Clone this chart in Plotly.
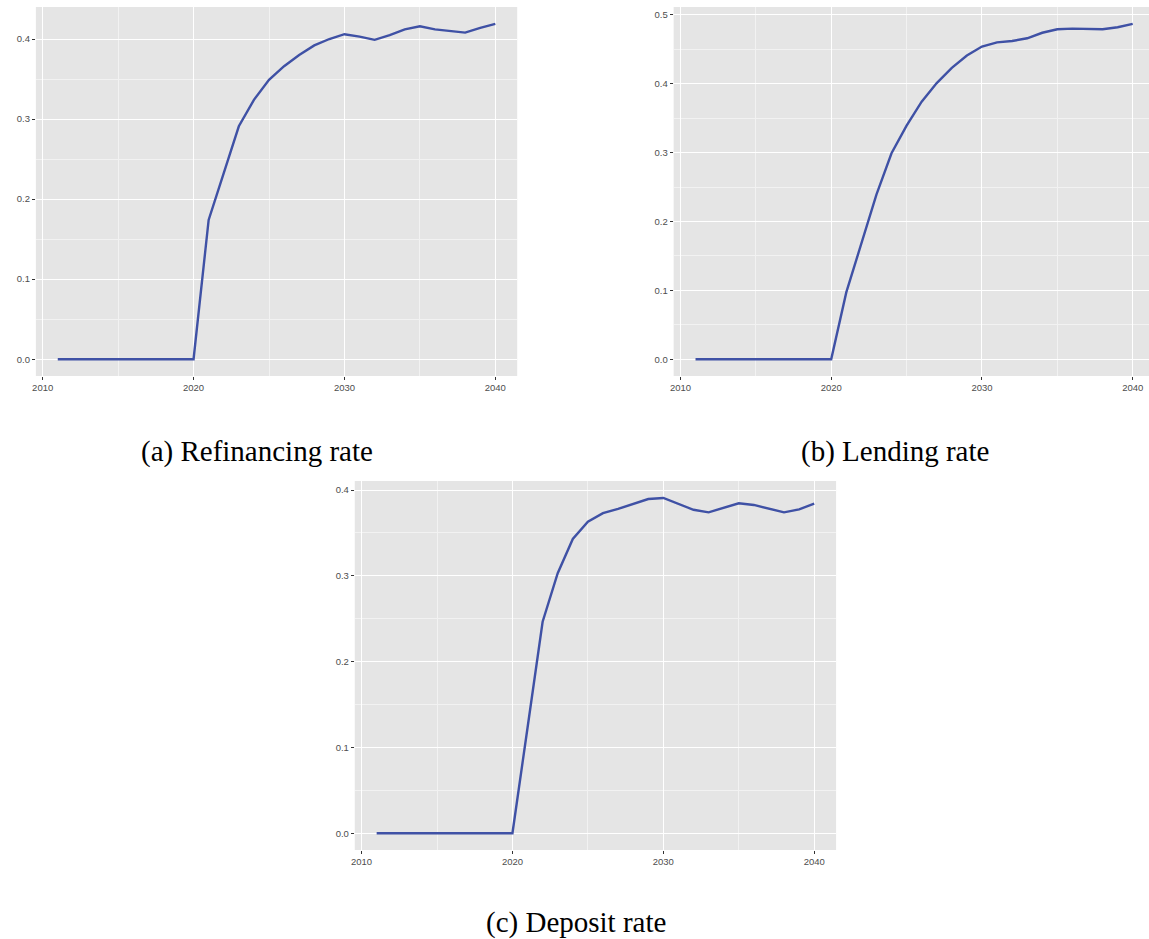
import plotly.graph_objects as go

years = list(range(2011, 2041))
refinancing = [0.0] * 10 + [0.174, 0.232, 0.291, 0.324, 0.349, 0.366, 0.380, 0.392, 0.400, 0.406,
                            0.403, 0.399, 0.405, 0.412, 0.416, 0.412, 0.410, 0.408, 0.414, 0.419]
lending = [0.0] * 10 + [0.097, 0.168, 0.239, 0.299, 0.339, 0.374, 0.401, 0.423, 0.441, 0.454,
                        0.460, 0.462, 0.466, 0.474, 0.479, 0.480, 0.479, 0.479, 0.482, 0.487]
deposit = [0.0] * 10 + [0.123, 0.2465, 0.303, 0.343, 0.363, 0.373, 0.378, 0.384, 0.3895, 0.3907,
                        0.384, 0.377, 0.374, 0.379, 0.3845, 0.3826, 0.378, 0.374, 0.3775, 0.384]
captions = ["(a) Refinancing rate", "(b) Lending rate", "(c) Deposit rate"]
x_ticks = [2010, 2020, 2030, 2040]

W, H = 1149, 939
LINE = "#3F51A5"
BG = "#E5E5E5"


def px_dom(a, b, total):
    return [a / total, b / total]


def py_dom(top, bottom):
    return [1 - bottom / H, 1 - top / H]


panels = [
    dict(y=refinancing, xd=px_dom(32, 515, W), yd=py_dom(7, 376), xr=[2009.55, 2041.45],
         yr=[-0.021, 0.440], yt=[0.0, 0.1, 0.2, 0.3, 0.4], cap=(254, 451)),
    dict(y=lending, xd=px_dom(672, 1149, W), yd=py_dom(7, 376), xr=[2009.55, 2041.08],
         yr=[-0.0244, 0.5114], yt=[0.0, 0.1, 0.2, 0.3, 0.4, 0.5], cap=(894, 451)),
    dict(y=deposit, xd=px_dom(352, 835, W), yd=py_dom(481, 850), xr=[2009.55, 2041.45],
         yr=[-0.0195, 0.4105], yt=[0.0, 0.1, 0.2, 0.3, 0.4], cap=(574, 922)),
]

fig = go.Figure()
layout = dict(width=W, height=H, autosize=False, margin=dict(l=0, r=0, t=0, b=0),
              paper_bgcolor="white", plot_bgcolor=BG, showlegend=False, annotations=[])

for i, p in enumerate(panels, start=1):
    sfx = "" if i == 1 else str(i)
    fig.add_trace(go.Scatter(x=years, y=p["y"], mode="lines",
                             line=dict(color=LINE, width=2.4),
                             xaxis="x" + sfx, yaxis="y" + sfx, hoverinfo="skip"))
    tickfont = dict(family="Liberation Sans, Arial, sans-serif", size=9.5, color="#4D4D4D")
    layout["xaxis" + sfx] = dict(
        domain=p["xd"], anchor="y" + sfx, range=p["xr"], tickvals=x_ticks,
        ticks="outside", ticklen=3, tickcolor="#333333", tickwidth=1,
        showgrid=True, gridcolor="white", gridwidth=1.1, zeroline=False, showline=False,
        tickfont=tickfont, fixedrange=True,
        minor=dict(tickvals=[2015, 2025, 2035], showgrid=True, gridcolor="#F2F2F2",
                   gridwidth=0.6, ticks=""),
    )
    layout["yaxis" + sfx] = dict(
        domain=p["yd"], anchor="x" + sfx, range=p["yr"], tickvals=p["yt"],
        ticktext=[f"{v:.1f}" for v in p["yt"]],
        ticks="outside", ticklen=3, tickcolor="#333333", tickwidth=1,
        showgrid=True, gridcolor="white", gridwidth=1.1, zeroline=False, showline=False,
        tickfont=tickfont, fixedrange=True,
        minor=dict(tickvals=[v + 0.05 for v in p["yt"]] + [-0.05], showgrid=True,
                   gridcolor="#F2F2F2", gridwidth=0.6, ticks=""),
    )
    cx, cy = p["cap"]
    layout["annotations"].append(dict(
        text=captions[i - 1], x=cx / W, y=1 - cy / H, xref="paper", yref="paper",
        showarrow=False, xanchor="center", yanchor="middle",
        font=dict(family="Liberation Serif, DejaVu Serif, serif", size=29, color="black")))

fig.update_layout(**layout)
fig.write_html("out.html", config={"displayModeBar": False},
               post_script="document.body.style.margin='0px';document.body.style.overflow='hidden';")
